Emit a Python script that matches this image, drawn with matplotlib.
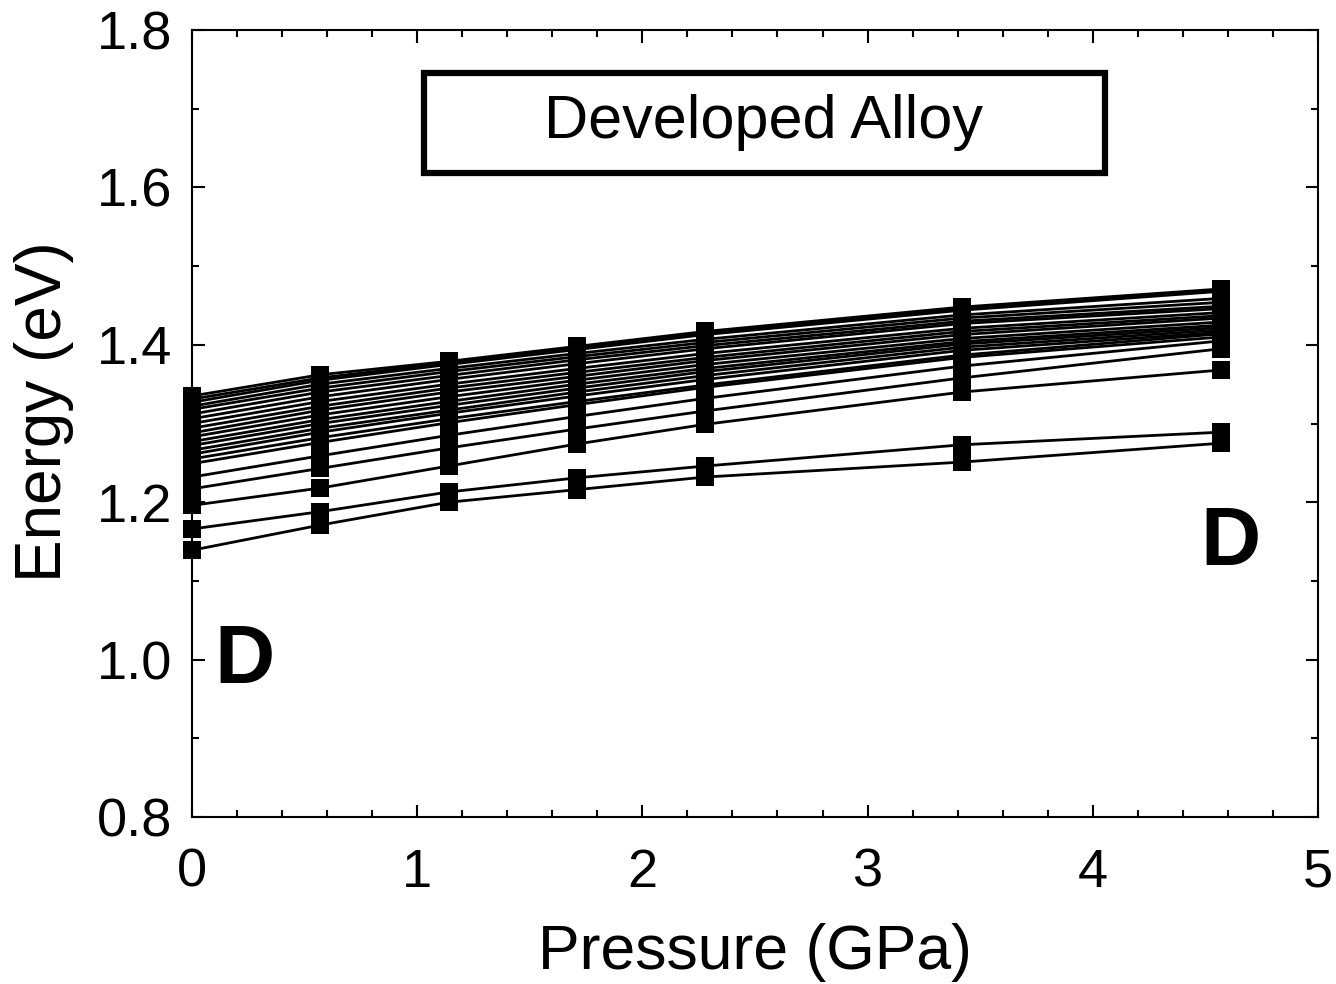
import matplotlib.pyplot as plt
import matplotlib.patches as mpatches
from matplotlib.ticker import MultipleLocator

plt.rcParams['font.family'] = ['Liberation Sans', 'DejaVu Sans']

# Pressure points (GPa)
pressure = [0.0, 0.57, 1.14, 1.71, 2.28, 3.42, 4.57]

# Energy (eV) of each curve at the pressure points
energies = [
    [1.335, 1.362, 1.379, 1.398, 1.417, 1.448, 1.471],
    [1.331, 1.358, 1.377, 1.396, 1.415, 1.446, 1.470],
    [1.327, 1.355, 1.375, 1.394, 1.413, 1.444, 1.468],
    [1.322, 1.350, 1.370, 1.389, 1.407, 1.438, 1.459],
    [1.318, 1.345, 1.366, 1.385, 1.403, 1.434, 1.454],
    [1.312, 1.340, 1.361, 1.381, 1.399, 1.430, 1.449],
    [1.306, 1.334, 1.356, 1.376, 1.395, 1.427, 1.446],
    [1.300, 1.328, 1.350, 1.370, 1.389, 1.421, 1.441],
    [1.294, 1.322, 1.345, 1.365, 1.384, 1.417, 1.437],
    [1.288, 1.317, 1.340, 1.360, 1.380, 1.413, 1.434],
    [1.283, 1.311, 1.334, 1.355, 1.375, 1.408, 1.429],
    [1.277, 1.305, 1.328, 1.350, 1.370, 1.404, 1.425],
    [1.272, 1.300, 1.323, 1.345, 1.366, 1.401, 1.422],
    [1.266, 1.294, 1.317, 1.340, 1.361, 1.397, 1.419],
    [1.261, 1.289, 1.313, 1.335, 1.356, 1.393, 1.416],
    [1.255, 1.282, 1.306, 1.328, 1.349, 1.387, 1.414],
    [1.249, 1.276, 1.301, 1.324, 1.346, 1.384, 1.410],
    [1.232, 1.259, 1.285, 1.309, 1.332, 1.373, 1.405],
    [1.217, 1.243, 1.269, 1.293, 1.316, 1.358, 1.395],
    [1.196, 1.218, 1.246, 1.274, 1.299, 1.340, 1.368],
    [1.166, 1.188, 1.213, 1.231, 1.246, 1.273, 1.289],
    [1.139, 1.171, 1.200, 1.216, 1.232, 1.251, 1.275],
]

fig = plt.figure(figsize=(13.36, 9.84), dpi=100)
ax = fig.add_axes([0.1437, 0.1697, 0.8428, 0.7998])

for e in energies:
    ax.plot(pressure, e, color='black', lw=2.0, marker='s', ms=13,
            mew=0, mfc='black', clip_on=False, zorder=3)

ax.set_xlim(0, 5)
ax.set_ylim(0.8, 1.8)
ax.xaxis.set_minor_locator(MultipleLocator(0.2))
ax.yaxis.set_minor_locator(MultipleLocator(0.1))
ax.set_xticks([0, 1, 2, 3, 4, 5])
ax.set_xticklabels(['0', '1', '2', '3', '4', '5'])
ax.set_yticks([0.8, 1.0, 1.2, 1.4, 1.6, 1.8])
ax.set_yticklabels(['0.8', '1.0', '1.2', '1.4', '1.6', '1.8'])

ax.tick_params(which='both', direction='in', top=True, right=True,
               labelsize=39, width=1.5)
ax.tick_params(axis='x', which='major', pad=22)
ax.tick_params(axis='y', which='major', pad=14)
ax.tick_params(which='major', length=9)
ax.tick_params(which='minor', length=5)
for s in ax.spines.values():
    s.set_linewidth(1.5)

ax.set_xlabel('Pressure (GPa)', fontsize=45, labelpad=18)
ax.set_ylabel('Energy (eV)', fontsize=46)
ax.yaxis.set_label_coords(-0.105, 0.515)

# Title box
ax.add_patch(mpatches.Rectangle((0.206, 0.818), 0.605, 0.127,
                                transform=ax.transAxes, fill=False,
                                lw=4.5, ec='black', zorder=4))
ax.text(0.508, 0.882, 'Developed Alloy', transform=ax.transAxes,
        ha='center', va='center', fontsize=44)

ax.text(0.047, 0.198, 'D', transform=ax.transAxes, ha='center',
        va='center', fontsize=60, fontweight='bold')
ax.text(0.922, 0.348, 'D', transform=ax.transAxes, ha='center',
        va='center', fontsize=60, fontweight='bold')

fig.savefig('out.png', dpi=100)
